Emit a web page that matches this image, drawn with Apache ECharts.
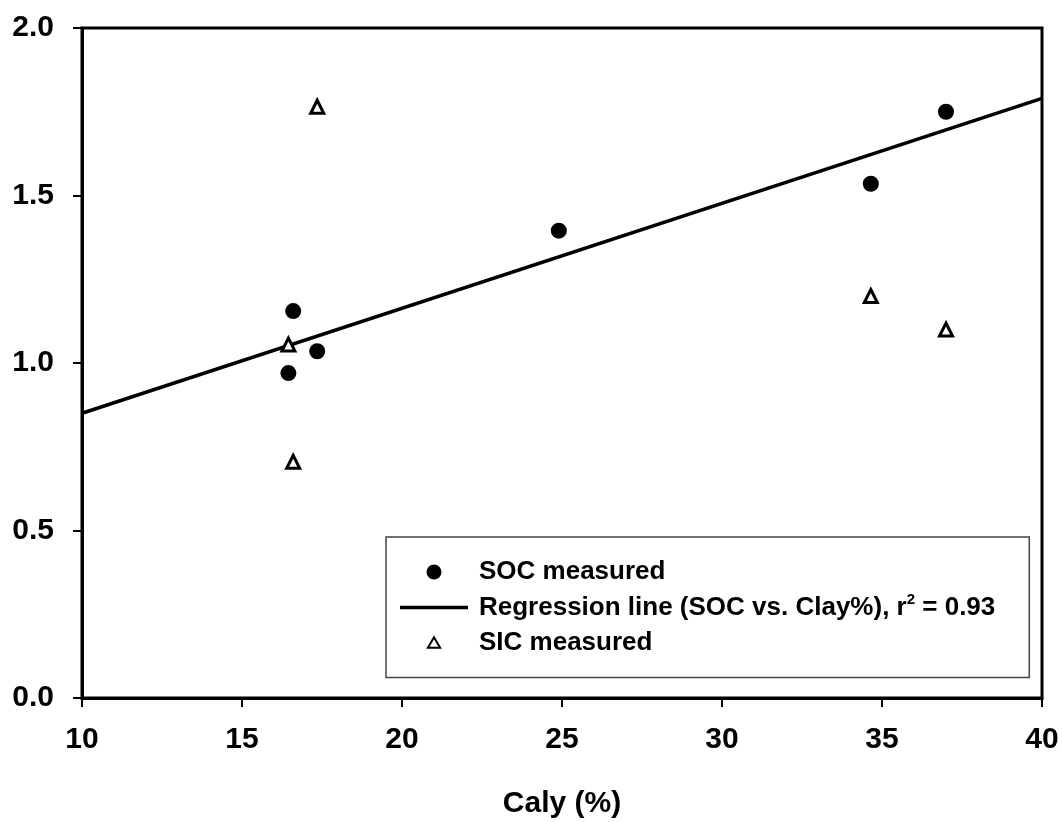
<!DOCTYPE html>
<html>
<head>
<meta charset="utf-8">
<script src="https://cdn.jsdelivr.net/npm/echarts@6/dist/echarts.min.js"></script>
<style>
  html, body { margin: 0; padding: 0; background: #fff; }
  #chart { width: 1062px; height: 822px; }
</style>
</head>
<body>
<div id="chart"></div>
<script>
const socClay = [16.45, 16.6, 17.35, 24.9, 34.65, 37.0]
const socVals = [0.97, 1.155, 1.035, 1.395, 1.535, 1.75]
const sicClay = [16.45, 16.6, 17.35, 34.65, 37.0]
const sicVals = [1.055, 0.705, 1.765, 1.2, 1.1]
// regression line end points
const regClay = [10, 40]
const regVals = [0.85, 1.79]

const FONT = '"Liberation Sans", Arial, sans-serif'
const zip = (xs, ys) => xs.map((x, i) => [x, ys[i]])

const chart = echarts.init(document.getElementById('chart'))

const REG_NAME = 'Regression line (SOC vs. Clay%), r2 = 0.93'
// triangle with a bit of empty room above/below so it stays smaller than the dot
const TRI_ICON = 'path://M5,-1.8 M5,0L10,8.66L0,8.66Z M5,10.46'
// plain bar for the regression line entry
const LINE_ICON = 'path://M0,0H64V3.5H0Z'

chart.setOption({
  backgroundColor: '#fff',
  animation: false,
  grid: {
    left: 82, right: 20, top: 28, bottom: 124,
    outerBoundsMode: 'none',
    show: true, borderColor: '#000', borderWidth: 3
  },
  xAxis: {
    type: 'value',
    min: 10, max: 40, interval: 5,
    name: 'Caly (%)',
    nameLocation: 'middle',
    nameGap: 91,
    nameTextStyle: { fontFamily: FONT, fontWeight: 'bold', fontSize: 30, color: '#000' },
    axisLine: { onZero: false, lineStyle: { color: '#000', width: 3 } },
    axisTick: { length: 9, lineStyle: { color: '#000', width: 2 } },
    axisLabel: { margin: 27, fontFamily: FONT, fontWeight: 'bold', fontSize: 30, color: '#000' },
    splitLine: { show: false }
  },
  yAxis: {
    type: 'value',
    min: 0, max: 2, interval: 0.5,
    axisLine: { show: true, onZero: false, lineStyle: { color: '#000', width: 3 } },
    axisTick: { show: true, length: 9, lineStyle: { color: '#000', width: 2 } },
    axisLabel: {
      margin: 28, fontFamily: FONT, fontWeight: 'bold', fontSize: 30, color: '#000',
      formatter: v => v.toFixed(1)
    },
    splitLine: { show: false }
  },
  legend: {
    orient: 'vertical',
    left: 386, top: 537,
    padding: [20, 34, 20, 14],
    borderColor: '#444', borderWidth: 1.5,
    backgroundColor: '#fff',
    itemWidth: 68, itemHeight: 15, itemGap: 5,
    data: [
      { name: 'SOC measured', icon: 'circle' },
      { name: REG_NAME, icon: LINE_ICON },
      { name: 'SIC measured', icon: TRI_ICON }
    ],
    formatter: name => name === REG_NAME
      ? 'Regression line (SOC vs. Clay%), r{sup|2} = 0.93'
      : name,
    textStyle: {
      fontFamily: FONT, fontWeight: 'bold', fontSize: 26, color: '#000',
      lineHeight: 30, padding: [0, 0, 0, 6],
      rich: {
        sup: { fontFamily: FONT, fontWeight: 'bold', fontSize: 15, color: '#000', padding: [0, 0, 16, 0] }
      }
    }
  },
  series: [
    {
      name: REG_NAME,
      type: 'line',
      data: zip(regClay, regVals),
      symbol: 'none',
      lineStyle: { color: '#000', width: 3.5 },
      itemStyle: { color: '#000' },
      z: 2
    },
    {
      name: 'SOC measured',
      type: 'scatter',
      data: zip(socClay, socVals),
      symbol: 'circle',
      symbolSize: 16,
      itemStyle: { color: '#000', opacity: 1 },
      z: 3
    },
    {
      name: 'SIC measured',
      type: 'scatter',
      data: zip(sicClay, sicVals),
      symbol: 'triangle',
      symbolSize: 13,
      itemStyle: { color: '#fff', borderColor: '#000', borderWidth: 3, opacity: 1 },
      z: 4
    }
  ]
})
</script>
</body>
</html>
